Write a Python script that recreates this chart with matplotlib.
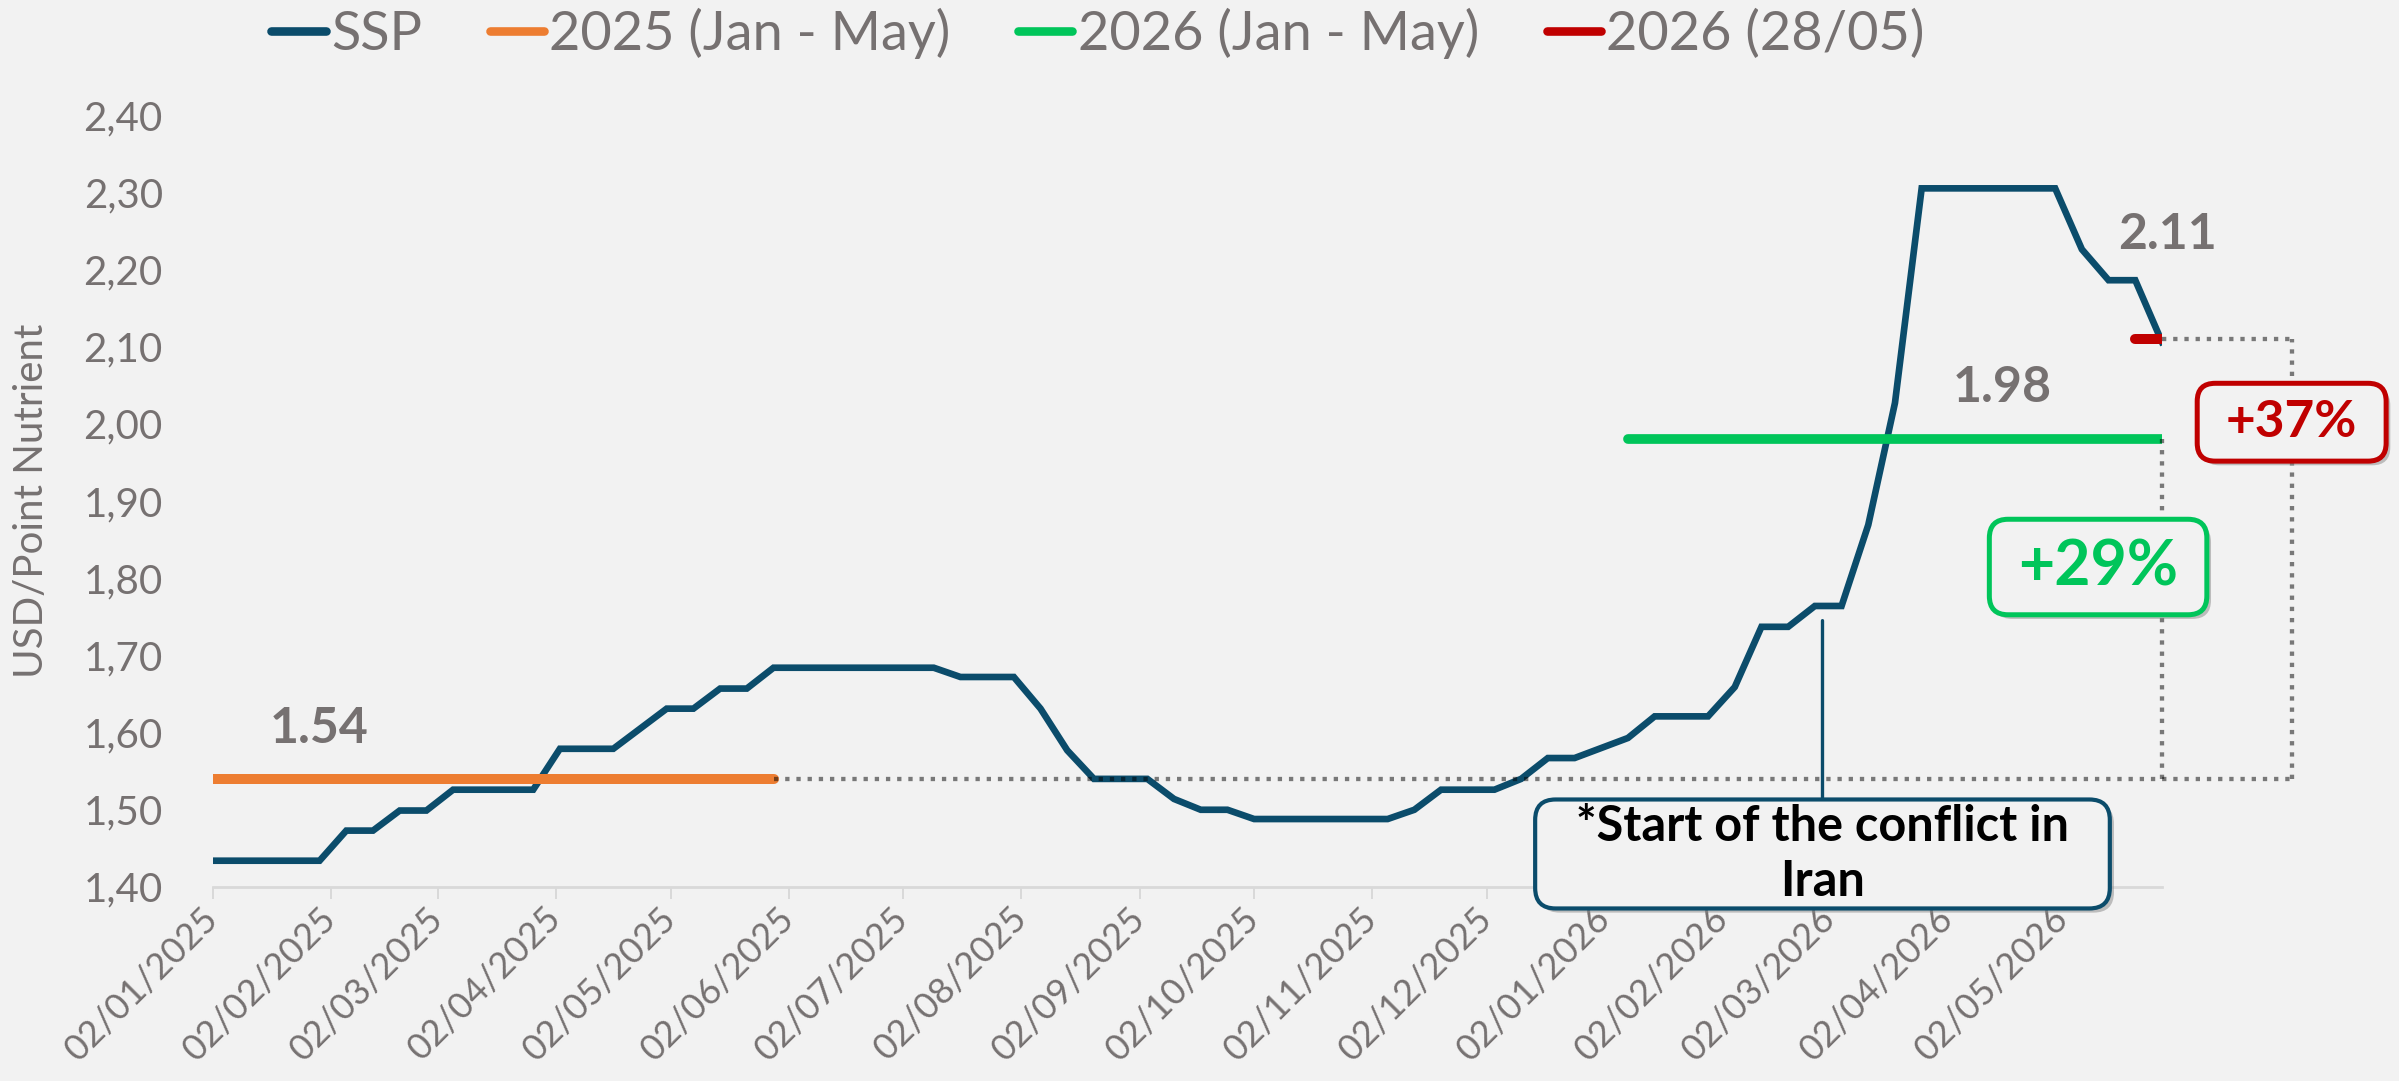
import pandas as pd
import matplotlib
matplotlib.use("Agg")
import matplotlib.pyplot as plt
import matplotlib.dates as mdates
from matplotlib.lines import Line2D
from matplotlib.patches import BoxStyle
from matplotlib import patheffects as pe
from matplotlib.ticker import FuncFormatter, MultipleLocator

plt.rcParams["font.family"] = ["Lato", "DejaVu Sans"]

# weekly SSP price, USD/point nutrient
ssp = [
    1.434, 1.434, 1.434, 1.434, 1.434, 1.473, 1.473, 1.499, 1.499, 1.526,
    1.526, 1.526, 1.526, 1.579, 1.579, 1.579, 1.605, 1.631, 1.631, 1.657,
    1.657, 1.684, 1.684, 1.684, 1.684, 1.684, 1.684, 1.684, 1.672, 1.672,
    1.672, 1.631, 1.577, 1.540, 1.540, 1.540, 1.514, 1.500, 1.500, 1.488,
    1.488, 1.488, 1.488, 1.488, 1.488, 1.500, 1.526, 1.526, 1.526, 1.540,
    1.567, 1.567, 1.580, 1.593, 1.621, 1.621, 1.621, 1.659, 1.737, 1.737,
    1.764, 1.764, 1.869, 2.027, 2.305, 2.305, 2.305, 2.305, 2.305, 2.305,
    2.226, 2.186, 2.186, 2.106,
]
dates = pd.date_range("2025-01-02", "2026-05-28", freq="7D")

avg_2025 = 1.54
avg_2026 = 1.98
last_2026 = 2.11
period_2025 = ("2025-01-02", "2025-05-29")
period_2026 = ("2026-01-08", "2026-05-28")
period_last = ("2026-05-21", "2026-05-28")
conflict_date = pd.Timestamp("2026-02-28")
bracket_x = pd.Timestamp("2026-07-01")

labels = ["SSP", "2025 (Jan - May)", "2026 (Jan - May)", "2026 (28/05)"]
pct_2026 = "+29%"
pct_last = "+37%"
conflict_text = "*Start of the conflict in\nIran"

BG = "#F2F2F2"
BLUE = "#0B4C6B"
ORANGE = "#ED7D31"
GREEN = "#00C55A"
RED = "#C00000"
GRAY = "#767171"
AXIS = "#D9D9D9"


def span(period):
    lo, hi = pd.Timestamp(period[0]), pd.Timestamp(period[1])
    return dates[(dates >= lo) & (dates <= hi)]


def rounded_box(padx, pady, rounding):
    # rounded box with separate horizontal / vertical padding
    base = BoxStyle.Round(pad=0, rounding_size=rounding)

    def style(x0, y0, width, height, mutation_size):
        px, py = padx * mutation_size, pady * mutation_size
        return base(x0 - px, y0 - py, width + 2 * px, height + 2 * py, mutation_size)
    return style


fig = plt.figure(figsize=(23.99, 10.81), dpi=100, facecolor=BG)
ax = fig.add_axes([0.0887, 0.1795, 0.8125, 0.7141], facecolor=BG)

ax.plot(dates, ssp, color=BLUE, lw=4.8, solid_joinstyle="miter", zorder=3)

d25 = span(period_2025)
d26 = span(period_2026)
dl = span(period_last)
ax.plot(d25, [avg_2025] * len(d25), color=ORANGE, lw=7.2, solid_capstyle="round", zorder=4)
ax.plot(d26, [avg_2026] * len(d26), color=GREEN, lw=7, solid_capstyle="round", zorder=4)
ax.plot(dl, [last_2026] * len(dl), color=RED, lw=7.2, solid_capstyle="round", zorder=4)

# dotted guide lines
dot = dict(color="black", alpha=0.5, lw=3.1, linestyle=(0, (1, 1.6)),
           dash_capstyle="butt", clip_on=False, zorder=5)
ax.plot([d25[-1], bracket_x], [avg_2025, avg_2025], **dot)
ax.plot([d26[-1], d26[-1]], [avg_2025, avg_2026], **dot)
ax.plot([bracket_x, bracket_x], [avg_2025, last_2026], **dot)
ax.plot([dl[-1], bracket_x], [last_2026, last_2026], **dot)

# value labels
ax.annotate(f"{avg_2025:.2f}", xy=(d25[4], avg_2025), xytext=(0, 36),
            textcoords="offset points", ha="center", va="center",
            fontsize=36, fontweight="bold", color=GRAY)
ax.annotate(f"{avg_2026:.2f}", xy=(d26[14], avg_2026), xytext=(0, 37),
            textcoords="offset points", ha="center", va="center",
            fontsize=36, fontweight="bold", color=GRAY)
ax.annotate(f"{last_2026:.2f}", xy=(dl[-1], last_2026), xytext=(4, 75),
            textcoords="offset points", ha="center", va="center",
            fontsize=36, fontweight="bold", color=GRAY)

shadow = [pe.SimplePatchShadow(offset=(3, -3), shadow_rgbFace="#888888", alpha=0.5), pe.Normal()]

t = ax.annotate(pct_2026, xy=(d26[-1], avg_2026), xytext=(-46, -92),
                textcoords="offset points", ha="center", va="center",
                fontsize=45, fontweight="bold", color=GREEN, zorder=6,
                bbox=dict(boxstyle=rounded_box(0.46, 0.3, 0.3),
                          fc=BG, ec=GREEN, lw=3.6))
t.get_bbox_patch().set_path_effects(shadow)

t = ax.annotate(pct_last, xy=(bracket_x, last_2026), xytext=(0, -60),
                textcoords="offset points", ha="center", va="center",
                fontsize=37, fontweight="bold", color=RED, zorder=6,
                annotation_clip=False,
                bbox=dict(boxstyle=rounded_box(0.56, 0.3, 0.35),
                          fc=BG, ec=RED, lw=3.6))
t.get_bbox_patch().set_path_effects(shadow)

t = ax.annotate(conflict_text, xy=(conflict_date, 1.745), xytext=(0, -168),
                textcoords="offset points", ha="center", va="center",
                fontsize=35, fontweight="bold", color="black", zorder=6,
                linespacing=1.25, annotation_clip=False,
                bbox=dict(boxstyle=rounded_box(0.84, 0.1, 0.42),
                          fc=BG, ec=BLUE, lw=3),
                arrowprops=dict(arrowstyle="-", color=BLUE, lw=2.4,
                                shrinkA=0, shrinkB=0))
t.get_bbox_patch().set_path_effects(shadow)

# axes styling
ax.set_xlim(dates[0], dates[-1])
ax.set_ylim(1.40, 2.40)
ax.yaxis.set_major_locator(MultipleLocator(0.1))
ax.yaxis.set_major_formatter(FuncFormatter(lambda v, p: f"{v:.2f}".replace(".", ",")))
ax.xaxis.set_major_locator(mdates.MonthLocator(bymonthday=2))
ax.xaxis.set_major_formatter(mdates.DateFormatter("%d/%m/%Y"))

for side in ["top", "right", "left"]:
    ax.spines[side].set_visible(False)
ax.spines["bottom"].set_color(AXIS)
ax.spines["bottom"].set_linewidth(2)

ax.tick_params(axis="y", length=0, pad=36, labelsize=29, labelcolor=GRAY)
ax.tick_params(axis="x", length=8.6, width=1.4, color=AXIS, pad=10,
               labelsize=26, labelcolor=GRAY)
for lab in ax.get_xticklabels():
    lab.set_rotation(45)
    lab.set_ha("right")
    lab.set_va("center")
    lab.set_rotation_mode("anchor")

ax.set_ylabel("USD/Point Nutrient", fontsize=29, color=GRAY, va="center")
ax.yaxis.set_label_coords(-0.093, 0.5)

handles = [Line2D([], [], color=c, lw=6.2, solid_capstyle="round")
           for c in [BLUE, ORANGE, GREEN, RED]]
fig.legend(handles, labels, loc="center", bbox_to_anchor=(1098 / 2399, 1 - 33 / 1081),
           ncol=4, frameon=False, fontsize=39, handlelength=1.0,
           handletextpad=0.1, columnspacing=1.25, labelcolor=GRAY)

fig.savefig("out.png", dpi=100, facecolor=BG)
